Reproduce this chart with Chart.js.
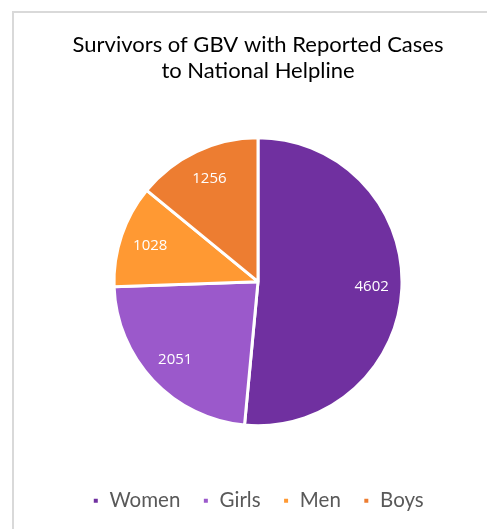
<!DOCTYPE html>
<html>
<head>
<meta charset="utf-8">
<script src="https://cdn.jsdelivr.net/npm/chart.js@4"></script>
<style>
  html, body { margin: 0; padding: 0; background: #fff; }
  #wrap { position: relative; width: 487px; height: 529px; overflow: hidden; }
  #frame { position: absolute; left: 12px; top: 11px; width: 600px; height: 600px;
           border-left: 2px solid #d9d9d9; border-top: 2px solid #d9d9d9; box-sizing: border-box; }
  canvas { position: absolute; left: 0; top: 0; }
</style>
</head>
<body>
<div id="wrap">
  <div id="frame"></div>
  <canvas id="c" width="487" height="529"></canvas>
</div>
<script>
const categories = ["Women", "Girls", "Men", "Boys"];
const seriesValues = [4602, 2051, 1028, 1256];
const seriesColors = ["#7030A0", "#9B59CB", "#FF9933", "#ED7D31"];
const titleLines = ["Survivors of GBV with Reported Cases", "to National Helpline"];

const valueLabels = {
  id: 'valueLabels',
  afterDatasetsDraw(chart) {
    const ctx = chart.ctx;
    const meta = chart.getDatasetMeta(0);
    ctx.save();
    ctx.fillStyle = '#ffffff';
    ctx.font = '15px "Open Sans"';
    ctx.textAlign = 'center';
    ctx.textBaseline = 'middle';
    meta.data.forEach((arc, i) => {
      const p = arc.getProps(['x', 'y', 'startAngle', 'endAngle', 'outerRadius'], true);
      const mid = (p.startAngle + p.endAngle) / 2;
      const r = p.outerRadius * 0.79;
      ctx.fillText(String(seriesValues[i]), p.x + Math.cos(mid) * r, p.y + Math.sin(mid) * r);
    });
    ctx.restore();
  }
};

new Chart(document.getElementById('c'), {
  type: 'pie',
  data: {
    labels: categories,
    datasets: [{
      data: seriesValues,
      backgroundColor: seriesColors,
      borderColor: '#ffffff',
      borderWidth: 3,
      radius: 144
    }]
  },
  options: {
    responsive: false,
    animation: false,
    layout: { padding: { left: 29, right: 0, top: 0, bottom: 8 } },
    plugins: {
      tooltip: { enabled: false },
      title: {
        display: true,
        text: titleLines,
        color: '#000000',
        font: { family: 'Lato', size: 22, weight: 'normal', lineHeight: 1.18 },
        padding: { top: 32, bottom: 11 }
      },
      legend: {
        display: true,
        position: 'bottom',
        labels: {
          color: '#595959',
          font: { family: 'Lato', size: 20.5 },
          boxWidth: 7,
          boxHeight: 7,
          padding: 22
        }
      }
    }
  },
  plugins: [valueLabels]
});
</script>
</body>
</html>
